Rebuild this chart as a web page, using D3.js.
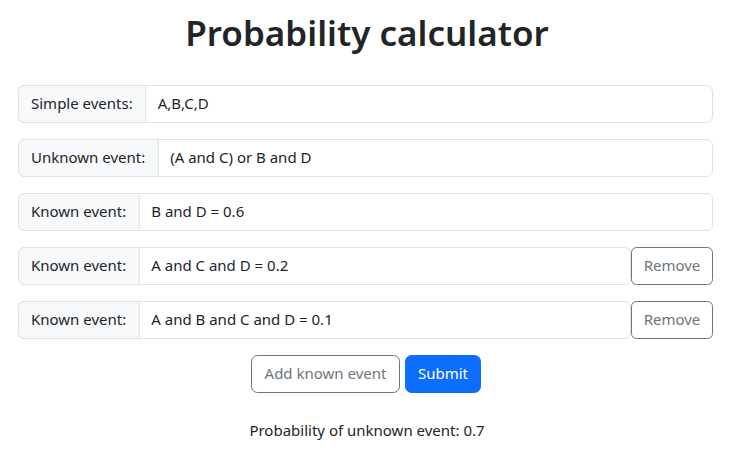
<!DOCTYPE html>
<html><head><meta charset="utf-8">
<script src="https://cdn.jsdelivr.net/npm/d3@7"></script>
<style>body{margin:0;background:#fff}</style></head>
<body><svg id="c" width="734" height="460"></svg>
<script>
const title = "Probability calculator";
const rowLabels = ["Simple events:", "Unknown event:", "Known event:", "Known event:", "Known event:"];
const rowValues = ["A,B,C,D", "(A and C) or B and D", "B and D = 0.6", "A and C and D = 0.2", "A and B and C and D = 0.1"];
const rowRemovable = [false, false, false, true, true];
const buttons = ["Add known event", "Submit"];
const result = "Probability of unknown event: 0.7";

const F = "'Noto Sans', 'Open Sans', sans-serif";
const svg = d3.select("#c");
svg.append("text").attr("x", 367).attr("y", 46).attr("text-anchor", "middle")
  .attr("font-family", F).attr("font-weight", 600).attr("font-size", 35).attr("fill", "#212529").text(title);

const L = 18, R = 713, H = 37;
const y = d3.scaleBand().domain(d3.range(rowLabels.length)).range([85, 85 + 54 * rowLabels.length]).paddingInner(0);

rowLabels.forEach((lab, i) => {
  const g = svg.append("g").attr("transform", `translate(0,${y(i)})`);
  const t = g.append("text").attr("font-family", F).attr("font-size", 15).attr("fill", "#212529")
    .attr("x", L + 13).attr("y", H / 2 + 5).text(lab);
  const lw = t.node().getComputedTextLength() + 26;
  const right = rowRemovable[i] ? 631 : R;
  g.insert("rect", "text").attr("x", L + 0.5).attr("y", 0.5).attr("width", right - L - 1).attr("height", H)
    .attr("rx", 6).attr("fill", "#fff").attr("stroke", "#dee2e6");
  g.insert("path", "text").attr("d", `M${L + lw},0.5 H${L + 6.5} a6,6 0 0 0 -6,6 V${H - 5.5} a6,6 0 0 0 6,6 H${L + lw} Z`)
    .attr("fill", "#f8f9fa").attr("stroke", "#dee2e6");
  g.append("text").attr("font-family", F).attr("font-size", 15).attr("fill", "#212529")
    .attr("x", L + lw + 12).attr("y", H / 2 + 5).text(rowValues[i]);
  if (rowRemovable[i]) {
    g.append("rect").attr("x", 631.5).attr("y", 0.5).attr("width", R - 632).attr("height", H).attr("rx", 5)
      .attr("fill", "#fff").attr("stroke", "#6c757d");
    g.append("text").attr("font-family", F).attr("font-size", 15).attr("fill", "#6c757d")
      .attr("x", (631 + R) / 2).attr("y", H / 2 + 5).attr("text-anchor", "middle").text("Remove");
  }
});

const bx = [[251, 400], [405, 481]];
buttons.forEach((b, i) => {
  const [a, e] = bx[i];
  svg.append("rect").attr("x", a + 0.5).attr("y", 355.5).attr("width", e - a - 1).attr("height", 37).attr("rx", 6)
    .attr("fill", i ? "#0d6efd" : "#fff").attr("stroke", i ? "#0d6efd" : "#6c757d");
  svg.append("text").attr("font-family", F).attr("font-size", 15).attr("fill", i ? "#fff" : "#6c757d")
    .attr("x", (a + e) / 2).attr("y", 379).attr("text-anchor", "middle").text(b);
});
svg.append("text").attr("font-family", F).attr("font-size", 15).attr("fill", "#212529")
  .attr("x", 367).attr("y", 436).attr("text-anchor", "middle").text(result);
</script></body></html>
